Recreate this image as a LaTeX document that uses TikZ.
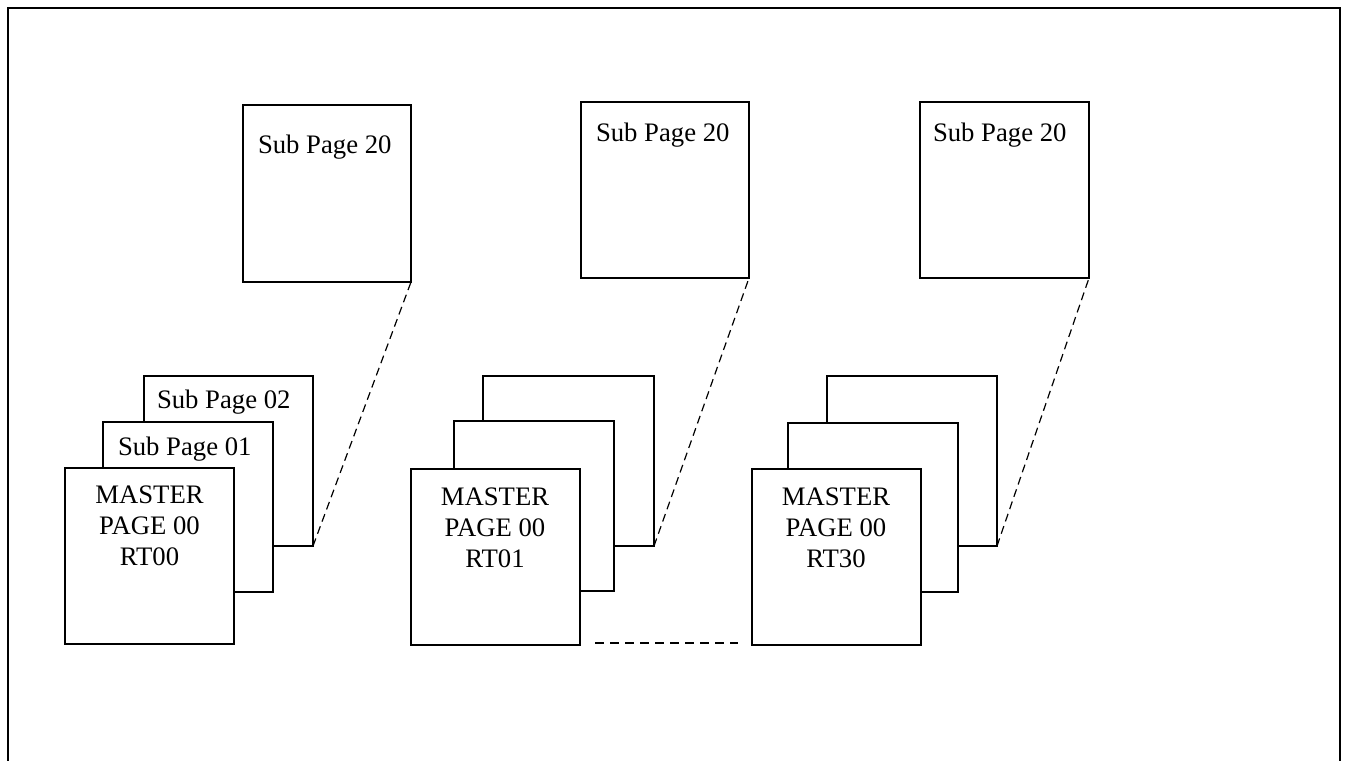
\documentclass[tikz,border=0pt]{standalone}
\usepackage{fontspec}
\setmainfont{Liberation Serif}
\usetikzlibrary{calc}
\begin{document}
\begin{tikzpicture}[x=1pt,y=-1pt,
  pagebox/.style={draw=black, line width=1.2pt, fill=white, rectangle, inner sep=0pt, outer sep=0pt},
  lbl/.style={inner sep=0pt, outer sep=0pt, font=\fontsize{26.7}{31}\selectfont},
  mlbl/.style={lbl, align=center, anchor=north},
  link/.style={line width=1.2pt, dash pattern=on 8pt off 5pt},
  gapline/.style={line width=1.2pt, dash pattern=on 9pt off 6pt}]
\useasboundingbox (0,0) rectangle (1348,760);
% outer frame
\draw[line width=1.6pt] (8,765) -- (8,8) -- (1340,8) -- (1340,765);

% ---------- group 1 ----------
\node[pagebox, minimum width=168pt, minimum height=177pt, anchor=north west] (t1) at (243,105) {};
\node[lbl, anchor=base west] (t1l) at (258,153) {Sub Page 20};
\node[pagebox, minimum width=169pt, minimum height=170pt, anchor=north west] (b1) at (144,376) {};
\node[lbl, anchor=base west] (b1l) at (157,408) {Sub Page 02};
\node[pagebox, minimum width=170pt, minimum height=170pt, anchor=north west] (m1) at (103,422) {};
\node[lbl, anchor=base west] (m1l) at (118,455) {Sub Page 01};
\node[pagebox, minimum width=169pt, minimum height=176pt, anchor=north west] (f1) at (65,468) {};
\node[mlbl] (f1l) at (149.5,485.5) {MASTER\\PAGE 00\\RT00};
\draw[link] (b1.south east) -- (t1.south east);

% ---------- group 2 ----------
\node[pagebox, minimum width=168pt, minimum height=176pt, anchor=north west] (t2) at (581,102) {};
\node[lbl, anchor=base west] (t2l) at (596,141) {Sub Page 20};
\node[pagebox, minimum width=171pt, minimum height=170pt, anchor=north west] (b2) at (483,376) {};
\node[pagebox, minimum width=160pt, minimum height=170pt, anchor=north west] (m2) at (454,421) {};
\node[pagebox, minimum width=169pt, minimum height=176pt, anchor=north west] (f2) at (411,469) {};
\node[mlbl] (f2l) at (495,487.5) {MASTER\\PAGE 00\\RT01};
\draw[link] (b2.south east) -- (t2.south east);

% ---------- group 3 ----------
\node[pagebox, minimum width=169pt, minimum height=176pt, anchor=north west] (t3) at (920,102) {};
\node[lbl, anchor=base west] (t3l) at (933,141) {Sub Page 20};
\node[pagebox, minimum width=170pt, minimum height=170pt, anchor=north west] (b3) at (827,376) {};
\node[pagebox, minimum width=170pt, minimum height=169pt, anchor=north west] (m3) at (788,423) {};
\node[pagebox, minimum width=169pt, minimum height=176pt, anchor=north west] (f3) at (752,469) {};
\node[mlbl] (f3l) at (836,487.5) {MASTER\\PAGE 00\\RT30};
\draw[link] (b3.south east) -- (t3.south east);

% continuation between RT01 and RT30
\draw[gapline] ($(f2.south east)+(15,-2)$) -- ($(f3.south west)+(-14,-2)$);
\end{tikzpicture}
\end{document}
